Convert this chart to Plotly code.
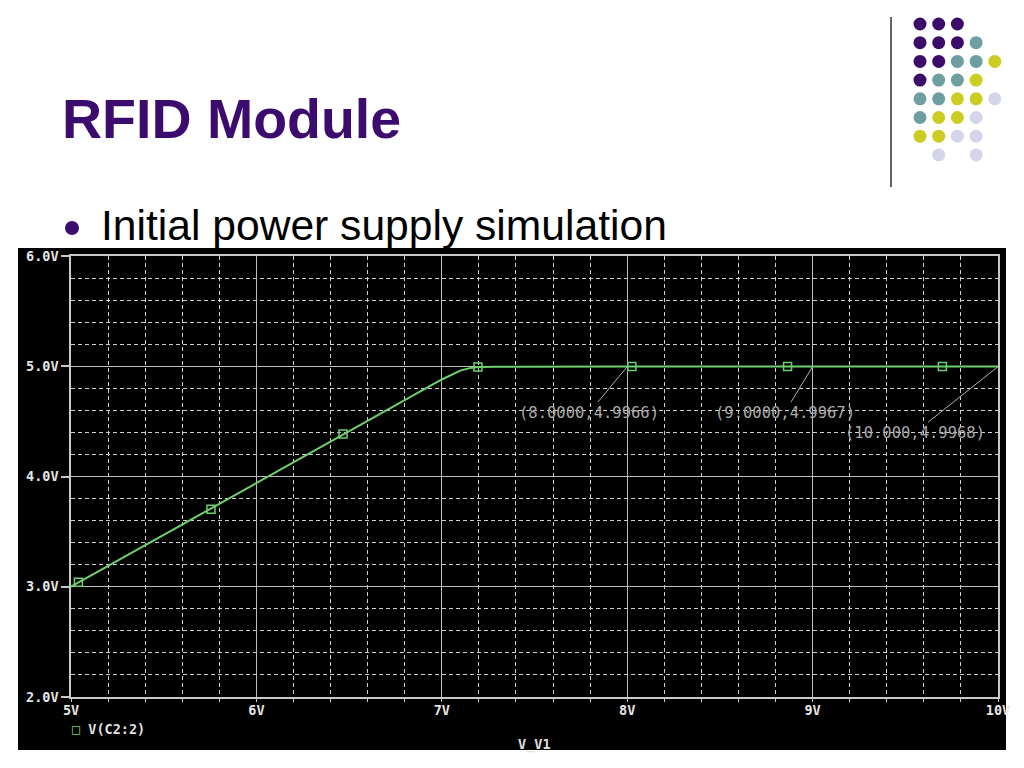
import plotly.graph_objects as go

# ---- data ----
sweep_v = [5.0, 5.5, 6.0, 6.5, 7.0, 7.1, 7.15, 7.2, 7.3, 8.0, 9.0, 10.0]
vc2 = [3.00, 3.47, 3.94, 4.41, 4.88, 4.96, 4.983, 4.993, 4.996, 4.9966, 4.9967, 4.9968]
marker_v = [5.04, 5.755, 6.467, 7.195, 8.025, 8.865, 9.70]
marker_y = [3.04, 3.704, 4.385, 4.993, 4.9966, 4.9967, 4.9968]
x_ticks = [5, 6, 7, 8, 9, 10]
x_tick_text = ["5V", "6V", "7V", "8V", "9V", "10V"]
y_ticks = [2, 3, 4, 5, 6]
y_tick_text = ["2.0V", "3.0V", "4.0V", "5.0V", "6.0V"]
probe_x = [8.0, 9.0, 10.0]
probe_y = [4.9966, 4.9967, 4.9968]
probe_text = ["(8.0000,4.9966)", "(9.0000,4.9967)", "(10.000,4.9968)"]

W, H = 1024, 768
L, R, T, B = 71, 998, 256, 697  # plot area pixels


def px(p):
    return (p - L) / (R - L)


def py(p):
    return (B - p) / (B - T)


GREEN = "#6fd06f"
MONO = "DejaVu Sans Mono"
PURPLE = "#3B0B6E"

fig = go.Figure()
fig.add_trace(go.Scatter(x=sweep_v, y=vc2, mode="lines",
                         line=dict(color=GREEN, width=2), showlegend=False,
                         hoverinfo="skip"))
fig.add_trace(go.Scatter(x=marker_v, y=marker_y, mode="markers",
                         marker=dict(symbol="square-open", size=8, color=GREEN,
                                     line=dict(width=1.5, color=GREEN)),
                         showlegend=False))

shapes = []
# black oscilloscope background
shapes.append(dict(type="rect", xref="paper", yref="paper", x0=px(18), x1=px(1006),
                   y0=py(750), y1=py(248), fillcolor="black", line=dict(width=0),
                   layer="below"))
# vertical divider line top-right
shapes.append(dict(type="line", xref="paper", yref="paper", x0=px(891), x1=px(891),
                   y0=py(17), y1=py(187), line=dict(color="#333333", width=1.5)))
# bullet dot
shapes.append(dict(type="circle", xref="paper", yref="paper", x0=px(65), x1=px(79),
                   y0=py(235), y1=py(221), fillcolor=PURPLE, line=dict(width=0)))

# decorative dot pattern
dot_colors = {"P": "#3D0C6B", "T": "#6E9FA0", "Y": "#CCCC22", "L": "#D5D5EA"}
dot_rows = ["PPP", "PPPT", "PPTTY", "PTTY", "TTYYL", "TYYL", "YYLL", ".L.L"]
col_x0, col_dx = 920, 18.7
row_y0, row_dy = 24, 18.7
rad = 6.5
for ri, row in enumerate(dot_rows):
    for ci, ch in enumerate(row):
        if ch == ".":
            continue
        cx = col_x0 + ci * col_dx
        cy = row_y0 + ri * row_dy
        shapes.append(dict(type="circle", xref="paper", yref="paper",
                           x0=px(cx - rad), x1=px(cx + rad),
                           y0=py(cy + rad), y1=py(cy - rad),
                           fillcolor=dot_colors[ch], line=dict(width=0)))

annotations = []
annotations.append(dict(text="<b>RFID Module</b>", xref="paper", yref="paper",
                        x=px(60), y=py(119), xanchor="left", yanchor="middle",
                        showarrow=False,
                        font=dict(family="Liberation Sans, Arial", size=55.5, color=PURPLE)))
annotations.append(dict(text="Initial power supply simulation", xref="paper", yref="paper",
                        x=px(99), y=py(225), xanchor="left", yanchor="middle",
                        showarrow=False,
                        font=dict(family="Liberation Sans, Arial", size=42.6, color="black")))
# probe labels
offsets = [(-38, 46), (-28, 46), (-83, 66)]
for xv, yv, t, (ax, ay) in zip(probe_x, probe_y, probe_text, offsets):
    annotations.append(dict(x=xv, y=yv, xref="x", yref="y", text=t, showarrow=True,
                            arrowhead=0, arrowwidth=1, arrowcolor="#b0b0b0",
                            ax=ax, ay=ay, standoff=0,
                            font=dict(family=MONO, size=15.5, color="#a8a8a8")))
# legend
annotations.append(dict(text="<span style='color:%s'>□</span> <b>V(C2:2)</b>" % GREEN,
                        xref="paper", yref="paper", x=px(70), y=py(729),
                        xanchor="left", yanchor="middle", showarrow=False,
                        font=dict(family=MONO, size=13.5, color="#e0e0e0")))
# x axis title
annotations.append(dict(text="<b>V_V1</b>", xref="paper", yref="paper", x=0.5, y=py(744),
                        xanchor="center", yanchor="middle", showarrow=False,
                        font=dict(family=MONO, size=13.5, color="#e0e0e0")))

axis_common = dict(showline=True, linecolor="#c8c8c8", linewidth=1.5, mirror=True,
                   gridcolor="#bdbdbd", gridwidth=1, zeroline=False,
                   tickfont=dict(family=MONO, size=13.5, color="#e6e6e6", weight="bold"))

fig.update_layout(
    width=W, height=H, autosize=False,
    margin=dict(l=L, r=W - R, t=T, b=H - B),
    paper_bgcolor="white", plot_bgcolor="black",
    shapes=shapes, annotations=annotations,
    xaxis=dict(range=[5, 10], tickvals=x_ticks, ticktext=x_tick_text,
               ticks="", ticklen=5,
               minor=dict(dtick=0.2, tick0=5, showgrid=True, gridcolor="#d0d0d0",
                          griddash="4px,3px", gridwidth=1, ticks="outside", ticklen=3,
                          tickcolor="#c8c8c8"),
               **axis_common),
    yaxis=dict(range=[2, 6], tickvals=y_ticks, ticktext=y_tick_text,
               ticks="outside", ticklen=8, tickcolor="#c8c8c8", tickwidth=1.5,
               minor=dict(dtick=0.2, tick0=2, showgrid=True, gridcolor="#d0d0d0",
                          griddash="4px,3px", gridwidth=1),
               **axis_common),
    showlegend=False,
)

fig.write_html("out.html", config={"displayModeBar": False},
               post_script="document.body.style.margin='0';")
